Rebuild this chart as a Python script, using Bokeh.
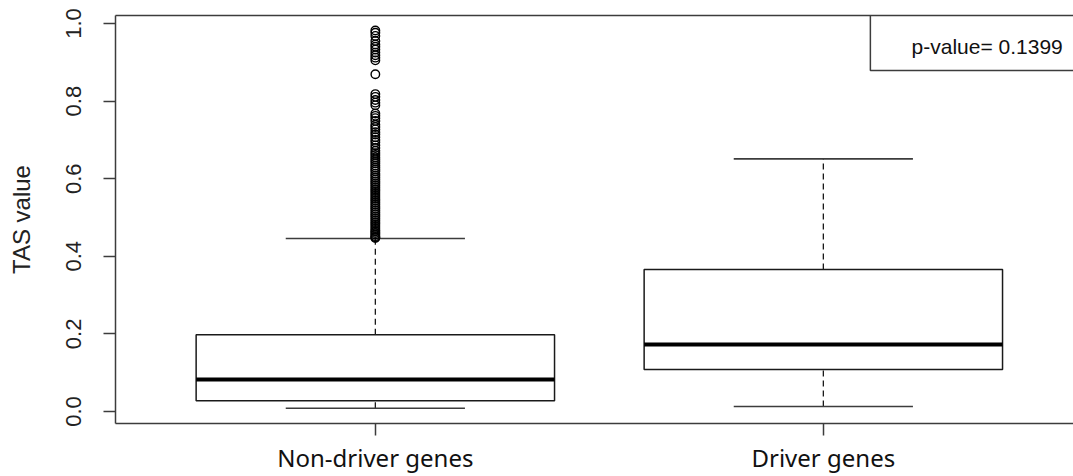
from bokeh.plotting import figure
from bokeh.models import Range1d, FixedTicker, LinearAxis, PrintfTickFormatter
from bokeh.core.properties import value
from bokeh.embed import file_html
from bokeh.resources import INLINE

# ---- data ----
categories = ["Non-driver genes", "Driver genes"]
lower_whisker = [0.0085, 0.013]
q1 = [0.028, 0.108]
median = [0.0825, 0.173]
q3 = [0.198, 0.366]
upper_whisker = [0.446, 0.651]
outliers_nondriver = [
    0.982, 0.976, 0.968, 0.955, 0.946, 0.940, 0.933, 0.925, 0.918, 0.912, 0.905,
    0.869, 0.818, 0.811, 0.803, 0.796, 0.789, 0.768, 0.762, 0.756, 0.749, 0.739,
    0.733, 0.727, 0.720, 0.714, 0.707, 0.700, 0.694, 0.686, 0.679, 0.672, 0.666,
    0.661, 0.655, 0.650, 0.645, 0.640, 0.634, 0.629, 0.624, 0.619, 0.613, 0.608,
    0.603, 0.598, 0.593, 0.588, 0.583, 0.578, 0.573, 0.568, 0.563, 0.558, 0.553,
    0.548, 0.543, 0.538, 0.533, 0.528, 0.523, 0.518, 0.513, 0.508, 0.503, 0.498,
    0.493, 0.488, 0.483, 0.478, 0.473, 0.468, 0.464, 0.460, 0.456, 0.452, 0.449,
    0.447,
]
y_ticks = [0.0, 0.2, 0.4, 0.6, 0.8, 1.0]
p_value_text = "p-value= 0.1399"

# ---- figure ----
pos = [i + 1 for i in range(len(categories))]
BOX_HALF = 0.4
CAP_HALF = 0.2
LINE = "#1a1a1a"
AXIS = "#3c3c3c"

p = figure(width=1073, height=476, output_backend="svg", toolbar_location=None,
           x_range=Range1d(0.42, 2.5584), y_range=Range1d(-0.0309, 1.0206),
           min_border_left=115, min_border_top=15, min_border_bottom=53,
           min_border_right=0, x_axis_location=None, y_axis_location=None)
p.grid.visible = False
p.outline_line_color = None
p.background_fill_color = "white"
p.border_fill_color = "white"

# left axis
ya = LinearAxis(ticker=FixedTicker(ticks=y_ticks), formatter=PrintfTickFormatter(format="%.1f"))
ya.axis_label = "TAS value"
ya.axis_label_text_font = "Liberation Sans"
ya.axis_label_text_font_style = "normal"
ya.axis_label_text_font_size = "24px"
ya.axis_label_text_color = "#222222"
ya.axis_label_standoff = 29
ya.major_label_text_font = "Liberation Sans"
ya.major_label_text_font_size = "22px"
ya.major_label_text_color = "#222222"
ya.major_label_orientation = "vertical"
ya.major_label_standoff = 22
ya.major_tick_out = 12
ya.major_tick_in = 0
ya.minor_tick_line_color = None
ya.axis_line_color = AXIS
ya.axis_line_width = 1.5
ya.major_tick_line_color = AXIS
ya.major_tick_line_width = 1.5
p.add_layout(ya, "left")

# bottom axis
xa = LinearAxis(ticker=FixedTicker(ticks=pos))
xa.major_label_overrides = {pv: c for pv, c in zip(pos, categories)}
xa.major_label_text_font = "Noto Sans"
xa.major_label_text_font_size = "24px"
xa.major_label_text_color = "#111111"
xa.major_label_standoff = 5
xa.major_tick_out = 12
xa.major_tick_in = 0
xa.minor_tick_line_color = None
xa.axis_line_color = AXIS
xa.axis_line_width = 1.5
xa.major_tick_line_color = AXIS
xa.major_tick_line_width = 1.5
p.add_layout(xa, "below")

# top border line
ta = LinearAxis(ticker=FixedTicker(ticks=[]))
ta.major_tick_out = 0
ta.major_tick_in = 0
ta.minor_tick_line_color = None
ta.major_label_text_font_size = "0px"
ta.major_label_standoff = 0
ta.axis_line_color = AXIS
ta.axis_line_width = 1.5
p.add_layout(ta, "above")

# whiskers (dashed)
p.segment(x0=pos, y0=q3, x1=pos, y1=upper_whisker, line_color=LINE, line_width=1.3, line_dash="6 4")
p.segment(x0=pos, y0=lower_whisker, x1=pos, y1=q1, line_color=LINE, line_width=1.3, line_dash="6 4")
# caps
p.segment(x0=[x - CAP_HALF for x in pos], y0=upper_whisker, x1=[x + CAP_HALF for x in pos],
          y1=upper_whisker, line_color=AXIS, line_width=1.6)
p.segment(x0=[x - CAP_HALF for x in pos], y0=lower_whisker, x1=[x + CAP_HALF for x in pos],
          y1=lower_whisker, line_color=AXIS, line_width=1.6)
# boxes
p.quad(left=[x - BOX_HALF for x in pos], right=[x + BOX_HALF for x in pos], bottom=q1, top=q3,
       fill_color="white", line_color=LINE, line_width=1.5)
# medians
p.segment(x0=[x - BOX_HALF for x in pos], y0=median, x1=[x + BOX_HALF for x in pos], y1=median,
          line_color="black", line_width=4)
# outliers
p.scatter(x=[pos[0]] * len(outliers_nondriver), y=outliers_nondriver, marker="circle", size=8.5,
          fill_color=None, line_color="black", line_width=1.4)

# p-value legend box (clipped by frame on the right, as in the reference)
p.quad(left=[2.105], right=[3.0], bottom=[0.879], top=[1.2], fill_color="white",
       line_color=AXIS, line_width=1.5)
p.text(x=[2.197], y=[0.9407], text=[p_value_text], text_font=value("Liberation Sans"),
       text_font_size="21px", text_baseline="middle", text_align="left", text_color="#111111")

open("out.html", "w").write(file_html(p, INLINE))
